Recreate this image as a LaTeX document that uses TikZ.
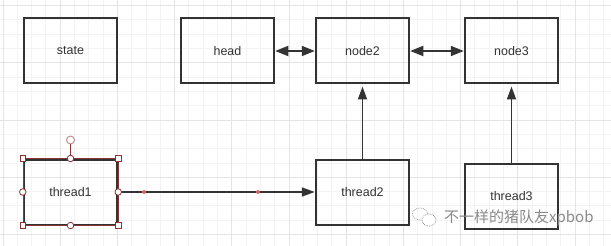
\documentclass[tikz,border=0pt]{standalone}
\usepackage{fontspec}
\setmainfont{Liberation Sans}
\newfontfamily\cjkfont{Noto Sans CJK SC}
\usepackage{tikz}
\usetikzlibrary{arrows.meta, positioning}

\definecolor{linegray}{HTML}{333333}
\definecolor{gridminor}{HTML}{F3F3F3}
\definecolor{gridmajor}{HTML}{E4E4E4}
\definecolor{selred}{HTML}{8B3434}
\definecolor{selpink}{HTML}{C38888}
\definecolor{waypt}{HTML}{E06666}
\definecolor{markgray}{HTML}{8A8A8A}

\begin{document}
\begin{tikzpicture}[x=1pt, y=-1pt,
  box/.style={draw=linegray, line width=2pt, minimum height=65pt, minimum width=93.5pt, align=center, font=\fontsize{12.5}{14}\selectfont, text=linegray, inner sep=0pt},
  arr/.style={-{Triangle[length=13pt, width=9pt]}, line width=1.8pt, draw=linegray},
  darr/.style={{Triangle[length=13pt, width=10pt]}-{Triangle[length=13pt, width=10pt]}, line width=1.8pt, draw=linegray},
  selsq/.style={draw=selred, fill=white, line width=0.8pt, minimum size=5.5pt, inner sep=0pt},
  selcirc/.style={circle, draw=selred, fill=white, line width=0.8pt, minimum size=6.5pt, inner sep=0pt},
  waydot/.style={circle, fill=waypt, minimum size=4pt, inner sep=0pt}
]
\useasboundingbox[fill=white] (0,0) rectangle (611,246);
% background grid
\foreach \k in {0,...,42} \draw[gridminor, line width=0.8pt] ({2.9+14.3*\k},0) -- ({2.9+14.3*\k},246);
\foreach \k in {0,...,16} \draw[gridminor, line width=0.8pt] (0,{5.6+14.3*\k}) -- (611,{5.6+14.3*\k});
\foreach \k in {0,4,...,40} \draw[gridmajor, line width=0.8pt] ({2.9+14.3*\k},0) -- ({2.9+14.3*\k},246);
\foreach \k in {0,4,...,16} \draw[gridmajor, line width=0.8pt] (0,{5.6+14.3*\k}) -- (611,{5.6+14.3*\k});

\node[box] (state)   at (70.5,51)  {state};
\node[box] (head)    at (227.5,51) {head};
\node[box] (node2)   at (362.5,51) {node2};
\node[box] (node3)   at (511.5,51) {node3};
\node[box] (thread1) at (70.5,192) {thread1};
\node[box] (thread2) at (362.5,192) {thread2};
\node[box] (thread3) at (511.5,196) {thread3};

\draw[darr] (head) -- (node2);
\draw[darr] (node2) -- (node3);
\draw[arr] (thread1) -- (thread2);
\draw[arr, shorten >=2pt] (thread2) -- (node2);
\draw[arr, shorten >=2pt] (thread3) -- (node3);

% selection of thread1
\node[waydot] (wp1) at (144,192) {};
\node[waydot] (wp2) at (258,192) {};
\draw[selred, line width=0.5pt] (thread1.north west) rectangle (thread1.south east);
\node[circle, draw=selpink, fill=white, minimum size=8pt, inner sep=0pt, line width=0.9pt] (rot) at (70.5,140) {};
\draw[selred, line width=0.8pt] (thread1.north) -- (rot);
\foreach \a/\n in {north west/nw, north east/ne, south west/sw, south east/se}
  \node[selsq] (h\n) at (thread1.\a) {};
\foreach \a/\n in {north/n, south/s, west/w, east/e}
  \node[selcirc] (h\n) at (thread1.\a) {};

% watermark
\draw[markgray, densely dotted, line width=0.7pt] (420,214) ellipse [x radius=7.5pt, y radius=6pt];
\draw[markgray, densely dotted, line width=0.7pt, fill=white] (429,220) ellipse [x radius=7pt, y radius=6pt];
\node[font=\cjkfont\fontsize{15}{17}\selectfont, text=markgray, anchor=west, inner sep=0pt] (mark) at (444,218) {不一样的猪队友xpbob};
\end{tikzpicture}
\end{document}
